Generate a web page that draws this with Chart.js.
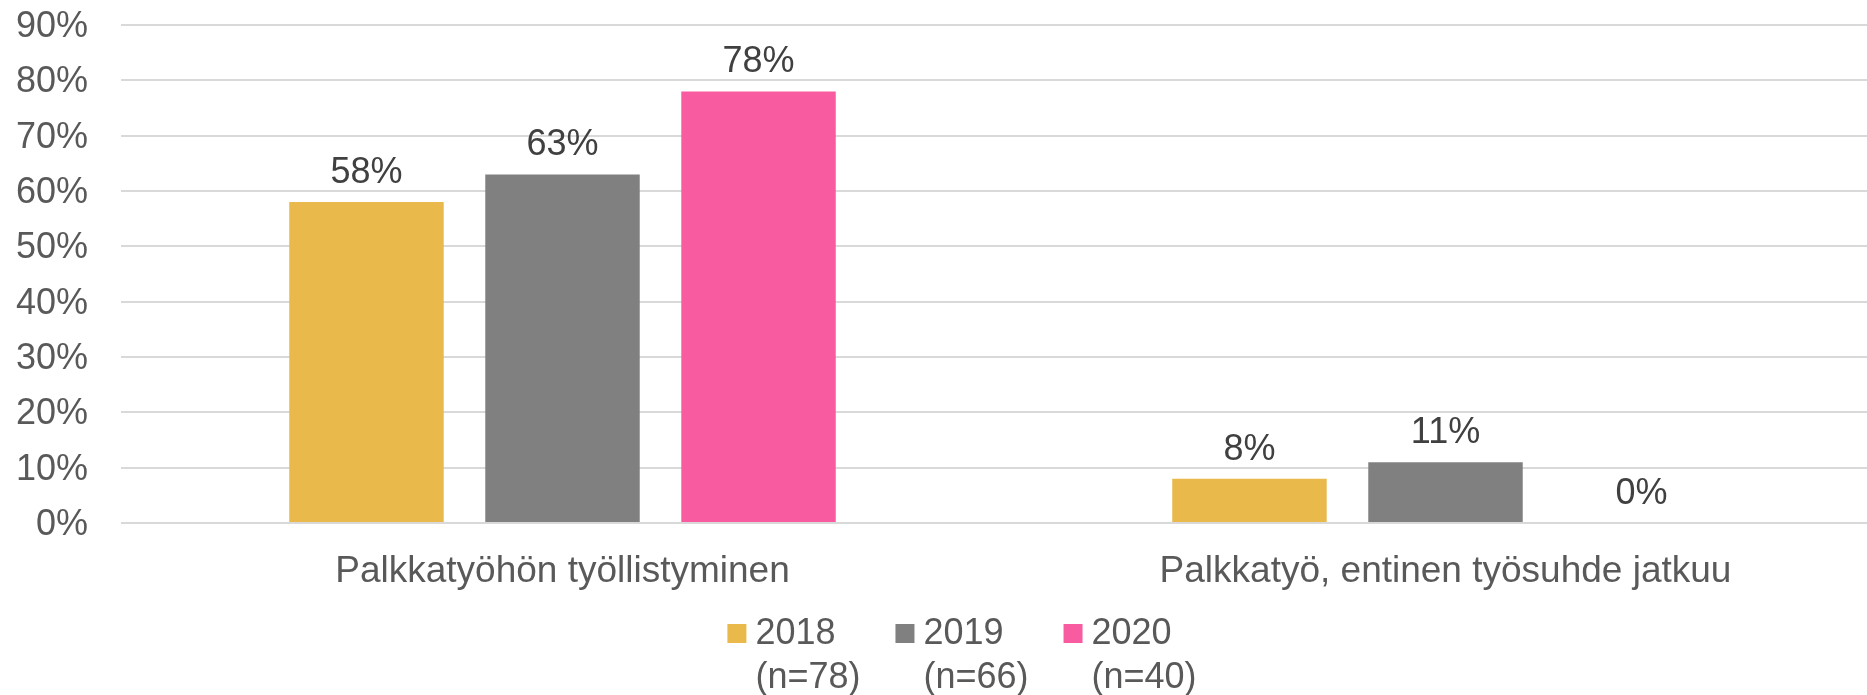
<!DOCTYPE html>
<html>
<head>
<meta charset="utf-8">
<script src="https://cdn.jsdelivr.net/npm/chart.js@4/dist/chart.umd.min.js"></script>
<style>
  html, body { margin: 0; padding: 0; background: #fff; }
  #wrap { width: 1867px; height: 695px; }
</style>
</head>
<body>
<div id="wrap"><canvas id="c" width="1867" height="695"></canvas></div>
<script>
// ---- data ----
const categories = ['Palkkatyöhön työllistyminen', 'Palkkatyö, entinen työsuhde jatkuu'];
const seriesNames = ['2018', '2019', '2020'];
const seriesN = ['(n=78)', '(n=66)', '(n=40)'];
const values2018 = [58, 8];
const values2019 = [63, 11];
const values2020 = [78, 0];
const yTicks = [0, 10, 20, 30, 40, 50, 60, 70, 80, 90];

const colors = ['#E9B94C', '#808080', '#F95BA1'];
const FONT = '"Liberation Sans", Arial, sans-serif';

const seriesValues = [values2018, values2019, values2020];

// The original plot area runs past the right edge of the picture (cropped),
// so the category axis is extended beyond the visible canvas.
const extendX = {
  id: 'extendX',
  afterLayout(chart) {
    const x = chart.scales.x;
    x.right = x.left + 1766;
    x.width = x.right - x.left;
    x.configure();
  }
};

const dataLabels = {
  id: 'dataLabels',
  afterDatasetsDraw(chart) {
    const ctx = chart.ctx;
    ctx.save();
    ctx.font = '36px ' + FONT;
    ctx.fillStyle = '#404040';
    ctx.textAlign = 'center';
    ctx.textBaseline = 'alphabetic';
    chart.data.datasets.forEach((ds, di) => {
      const meta = chart.getDatasetMeta(di);
      meta.data.forEach((bar, i) => {
        ctx.fillText(ds.data[i] + '%', bar.x, bar.y - 19);
      });
    });
    ctx.restore();
  }
};

const customLegend = {
  id: 'customLegend',
  afterDraw(chart) {
    const ctx = chart.ctx;
    ctx.save();
    ctx.font = '36px ' + FONT;
    let maxW = 0;
    seriesNames.forEach((n, i) => {
      maxW = Math.max(maxW, ctx.measureText(n).width, ctx.measureText(seriesN[i]).width);
    });
    const box = 19, textGap = 9, itemGap = 35;
    const itemW = box + textGap + maxW;
    const total = seriesNames.length * itemW + (seriesNames.length - 1) * itemGap;
    let x = 962 - total / 2;
    const boxTop = 624, base1 = 644, base2 = 688;
    chart.data.datasets.forEach((ds, i) => {
      ctx.fillStyle = ds.backgroundColor;
      ctx.fillRect(x, boxTop, box, box);
      ctx.fillStyle = '#595959';
      ctx.textAlign = 'left';
      ctx.textBaseline = 'alphabetic';
      ctx.fillText(seriesNames[i], x + box + textGap, base1);
      ctx.fillText(seriesN[i], x + box + textGap, base2);
      x += itemW + itemGap;
    });
    ctx.restore();
  }
};

new Chart(document.getElementById('c'), {
  type: 'bar',
  data: {
    labels: categories,
    datasets: seriesNames.map((name, i) => ({
      label: name + ' ' + seriesN[i],
      data: seriesValues[i],
      backgroundColor: colors[i],
      borderWidth: 0,
      categoryPercentage: 0.666,
      barPercentage: 0.788
    }))
  },
  options: {
    responsive: false,
    animation: false,
    devicePixelRatio: 1,
    layout: { padding: { left: 0, right: 0, top: 25, bottom: 0 } },
    plugins: {
      legend: { display: false },
      tooltip: { enabled: false }
    },
    scales: {
      x: {
        type: 'category',
        grid: { display: false, drawTicks: false },
        border: { display: false },
        ticks: {
          color: '#595959',
          font: { family: FONT, size: 37 },
          padding: 27,
          maxRotation: 0,
          autoSkip: false
        },
        afterFit(s) { s.height = 172; s.paddingLeft = 0; s.paddingRight = 0; }
      },
      y: {
        min: 0,
        max: 90,
        afterBuildTicks(s) { s.ticks = yTicks.map(v => ({ value: v })); },
        grid: { color: '#D9D9D9', lineWidth: 2, drawTicks: false },
        border: { display: false },
        ticks: {
          color: '#595959',
          font: { family: FONT, size: 36 },
          padding: 33,
          labelOffset: 2,
          callback: v => v + '%'
        },
        afterFit(s) { s.width = 121; s.paddingTop = 0; s.paddingBottom = 0; }
      }
    }
  },
  plugins: [extendX, dataLabels, customLegend]
});
</script>
</body>
</html>
